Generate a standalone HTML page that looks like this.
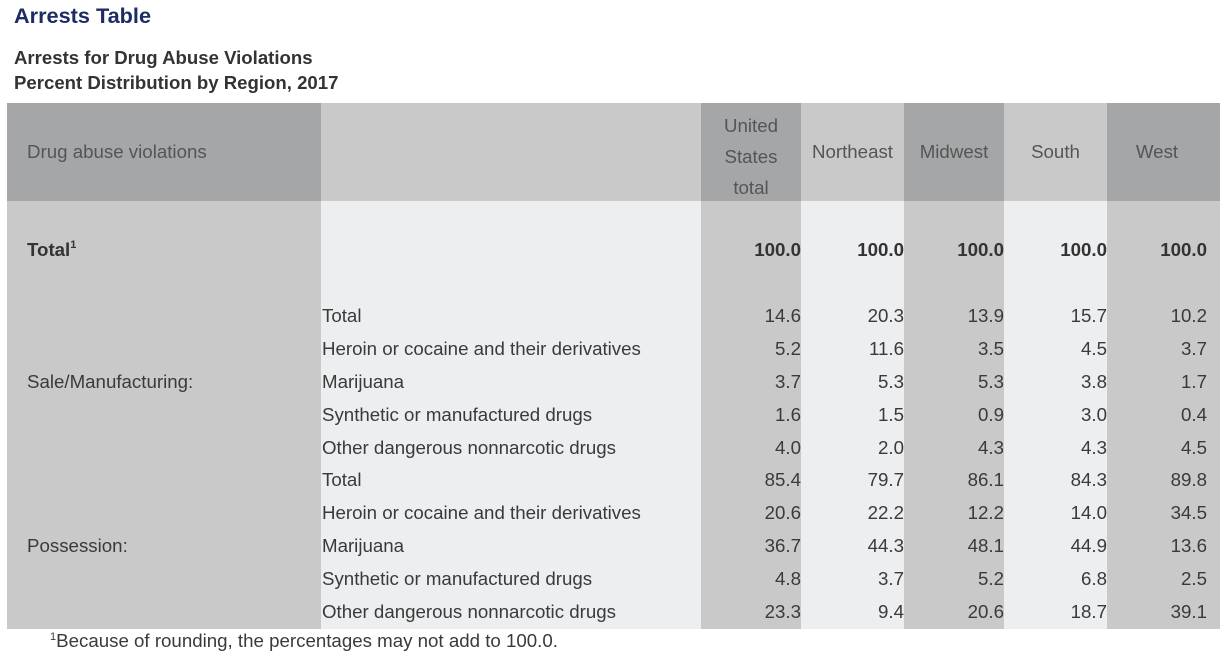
<!DOCTYPE html>
<html><head><meta charset="utf-8"><style>
body{margin:0;width:1228px;height:661px;background:#fff;font-family:"Liberation Sans",Arial,sans-serif;color:#3a3a3a;position:relative;overflow:hidden}
div{position:absolute;white-space:nowrap}
.t{font-size:18.7px;line-height:20px}
.r{text-align:right}
</style></head><body>
<div style="left:14px;top:3px;font-size:21.7px;font-weight:bold;color:#1e2c66">Arrests Table</div>
<div style="left:14px;top:45px;font-size:18.6px;font-weight:bold;color:#333;line-height:25px">Arrests for Drug Abuse Violations<br>Percent Distribution by Region, 2017</div>

<div style="left:7px;top:103px;width:314px;height:98px;background:#a4a6a7"></div>
<div style="left:321px;top:103px;width:380px;height:98px;background:#c8c9c8"></div>
<div style="left:701px;top:103px;width:100px;height:98px;background:#a4a6a7"></div>
<div style="left:801px;top:103px;width:103px;height:98px;background:#c8c9c8"></div>
<div style="left:904px;top:103px;width:100px;height:98px;background:#a4a6a7"></div>
<div style="left:1004px;top:103px;width:103px;height:98px;background:#c8c9c8"></div>
<div style="left:1107px;top:103px;width:113px;height:98px;background:#a4a6a7"></div>
<div style="left:7px;top:201px;width:314px;height:428px;background:#c8c9c8"></div>
<div style="left:321px;top:201px;width:380px;height:428px;background:#edeeef"></div>
<div style="left:701px;top:201px;width:100px;height:428px;background:#c8c9c8"></div>
<div style="left:801px;top:201px;width:103px;height:428px;background:#edeeef"></div>
<div style="left:904px;top:201px;width:100px;height:428px;background:#c8c9c8"></div>
<div style="left:1004px;top:201px;width:103px;height:428px;background:#edeeef"></div>
<div style="left:1107px;top:201px;width:113px;height:428px;background:#c8c9c8"></div>

<div class="t" style="left:27px;top:142px;color:#555">Drug abuse violations</div>
<div class="t" style="left:701px;width:100px;top:110px;text-align:center;color:#555;line-height:31px">United<br>States<br>total</div>
<div class="t" style="left:801px;width:103px;top:142px;text-align:center;color:#555">Northeast</div>
<div class="t" style="left:904px;width:100px;top:142px;text-align:center;color:#555">Midwest</div>
<div class="t" style="left:1004px;width:103px;top:142px;text-align:center;color:#555">South</div>
<div class="t" style="left:1107px;width:100px;top:142px;text-align:center;color:#555">West</div>

<div class="t" style="left:27px;top:240px;font-weight:bold;color:#333">Total<sup style="font-size:11px;vertical-align:8px;line-height:0">1</sup></div>
<div class="t r" style="left:701px;width:100px;top:240px;font-weight:bold;color:#333">100.0</div>
<div class="t r" style="left:801px;width:103px;top:240px;font-weight:bold;color:#333">100.0</div>
<div class="t r" style="left:904px;width:100px;top:240px;font-weight:bold;color:#333">100.0</div>
<div class="t r" style="left:1004px;width:103px;top:240px;font-weight:bold;color:#333">100.0</div>
<div class="t r" style="left:1107px;width:100px;top:240px;font-weight:bold;color:#333">100.0</div>

<div class="t" style="left:27px;top:372px">Sale/Manufacturing:</div>
<div class="t" style="left:27px;top:536px">Possession:</div>

<script>
var rows=[
["Total","14.6","20.3","13.9","15.7","10.2"],
["Heroin or cocaine and their derivatives","5.2","11.6","3.5","4.5","3.7"],
["Marijuana","3.7","5.3","5.3","3.8","1.7"],
["Synthetic or manufactured drugs","1.6","1.5","0.9","3.0","0.4"],
["Other dangerous nonnarcotic drugs","4.0","2.0","4.3","4.3","4.5"],
["Total","85.4","79.7","86.1","84.3","89.8"],
["Heroin or cocaine and their derivatives","20.6","22.2","12.2","14.0","34.5"],
["Marijuana","36.7","44.3","48.1","44.9","13.6"],
["Synthetic or manufactured drugs","4.8","3.7","5.2","6.8","2.5"],
["Other dangerous nonnarcotic drugs","23.3","9.4","20.6","18.7","39.1"]];
var ys=[306,339,372,405,438,470,503,536,569,602];
var cols=[[701,100],[801,103],[904,100],[1004,103],[1107,100]];
var h="";
rows.forEach(function(r,i){
 h+='<div class="t" style="left:322px;top:'+ys[i]+'px">'+r[0]+'</div>';
 for(var j=0;j<5;j++)h+='<div class="t r" style="left:'+cols[j][0]+'px;width:'+cols[j][1]+'px;top:'+ys[i]+'px">'+r[j+1]+'</div>';
});
document.body.insertAdjacentHTML('beforeend',h);
</script>
<div class="t" style="left:50px;top:631px"><sup style="font-size:11px;vertical-align:7px;line-height:0">1</sup>Because of rounding, the percentages may not add to 100.0.</div>
</body></html>
